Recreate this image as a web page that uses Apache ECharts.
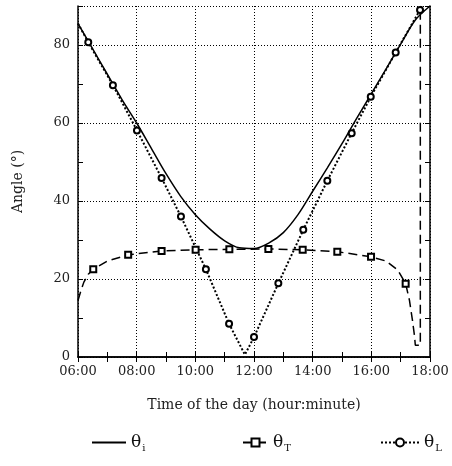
<!DOCTYPE html>
<html>
<head>
<meta charset="utf-8">
<script src="https://cdn.jsdelivr.net/npm/echarts@6/dist/echarts.min.js"></script>
<style>
html,body{margin:0;padding:0;background:#fff;}
#chart{width:452px;height:466px;}
</style>
</head>
<body>
<div id="chart"></div>
<script>
// theta_i : incidence angle (solid line)
var iHours  = [6.0, 6.5, 7.0, 7.5, 8.0, 8.5, 9.0, 9.5, 10.0, 10.5, 11.0, 11.5, 12.0, 12.5, 13.0, 13.5, 14.0, 14.5, 15.0, 15.5, 16.0, 16.5, 17.0, 17.5, 18.0];
var iValues = [85.5, 79, 72.5, 66, 60, 53.5, 47, 41.2, 36.5, 32.8, 29.8, 28.0, 27.8, 29.2, 31.9, 36.5, 42.5, 48.5, 54.7, 61.2, 67.5, 73.8, 80.2, 86.4, 90];

// theta_T (dashed, squares)
var tHours  = [6.0, 6.1, 6.2, 6.35, 6.52, 7.0, 7.71, 8.85, 10.01, 11.16, 12.49, 13.66, 14.84, 15.99, 16.5, 16.9, 17.17, 17.3, 17.4, 17.47, 17.5, 17.67, 17.67];
var tValues = [14.5, 17, 19.2, 21.2, 22.5, 24.6, 26.2, 27.2, 27.5, 27.6, 27.7, 27.5, 27.0, 25.7, 24.6, 22.3, 18.8, 14.5, 9.5, 5.5, 3, 3, 90];
var tMarked = [0, 0, 0, 0, 1, 0, 1, 1, 1, 1, 1, 1, 1, 1, 0, 0, 1, 0, 0, 0, 0, 0, 0];

// theta_L (dotted, circles)
var lHours  = [6.0, 6.35, 7.19, 8.01, 8.85, 9.51, 10.36, 11.15, 11.69, 12.0, 12.83, 13.68, 14.5, 15.33, 15.98, 16.83, 17.66, 17.72];
var lValues = [85.5, 80.7, 69.7, 58.1, 45.9, 36.0, 22.5, 8.5, 0.6, 5.1, 18.9, 32.6, 45.2, 57.4, 66.7, 78.1, 89.0, 90];
var lMarked = [0, 1, 1, 1, 1, 1, 1, 1, 0, 1, 1, 1, 1, 1, 1, 1, 1, 0];

var xTicks = ['06:00', '08:00', '10:00', '12:00', '14:00', '16:00', '18:00'];
var yTicks = ['0', '20', '40', '60', '80'];

function pairs(h, v, m) {
    return h.map(function (x, k) {
        var p = { value: [x, v[k]] };
        if (m && !m[k]) p.symbol = 'none';
        return p;
    });
}

var font = 'DejaVu Serif';
var chart = echarts.init(document.getElementById('chart'));

var subRich = {
    a: { fontFamily: font, fontSize: 17, color: '#111' },
    b: { fontFamily: font, fontSize: 10, color: '#111', padding: [12, 0, 0, 1] }
};
var subNames = { 'θi': '{a|θ}{b|i}', 'θT': '{a|θ}{b|T}', 'θL': '{a|θ}{b|L}' };
function legendAt(left, name, w, noSymbol) {
    var l = {
        data: [name], left: left, top: 429, itemWidth: w, itemHeight: 10,
        formatter: function (n) { return subNames[n]; },
        textStyle: { rich: subRich },
        selectedMode: false
    };
    if (noSymbol) l.itemStyle = { opacity: 0 };
    return l;
}

var axisCommon = {
    type: 'value',
    axisLine: { lineStyle: { color: '#000', width: 1.5 } },
    axisTick: { inside: true, length: 5, lineStyle: { color: '#000' } },
    minorTick: { show: true, splitNumber: 2, length: 5, lineStyle: { color: '#000' } }
};

chart.setOption({
    animation: false,
    grid: { left: 78, right: 22, top: 6, bottom: 109 },
    legend: [legendAt(86, 'θi', 34, true), legendAt(237, 'θT', 25), legendAt(375, 'θL', 38)],
    xAxis: [
        Object.assign({}, axisCommon, {
            min: 6, max: 18, interval: 2,
            name: 'Time of the day (hour:minute)',
            nameLocation: 'middle', nameGap: 41,
            nameTextStyle: { fontFamily: font, fontSize: 14, color: '#222' },
            axisLabel: {
                fontFamily: font, fontSize: 13, color: '#222', margin: 8,
                formatter: function (v) { return xTicks[(v - 6) / 2]; }
            },
            splitLine: { show: true, lineStyle: { color: '#000', type: [1, 2], width: 1 } }
        }),
        Object.assign({}, axisCommon, {
            min: 6, max: 18, interval: 2, position: 'top',
            axisLabel: { show: false }, splitLine: { show: false }
        })
    ],
    yAxis: [
        Object.assign({}, axisCommon, {
            min: 0, max: 90, interval: 20,
            name: 'Angle (°)',
            nameLocation: 'middle', nameGap: 53,
            nameTextStyle: { fontFamily: font, fontSize: 14, color: '#222' },
            axisLabel: {
                fontFamily: font, fontSize: 13, color: '#222', margin: 8,
                formatter: function (v) { return v % 20 === 0 ? yTicks[v / 20] : ''; }
            },
            splitLine: { show: true, lineStyle: { color: '#000', type: [1, 2], width: 1 } }
        }),
        Object.assign({}, axisCommon, {
            min: 0, max: 90, interval: 20, position: 'right',
            axisLabel: { show: false }, splitLine: { show: false }
        })
    ],
    series: [
        {
            name: 'θi', type: 'line', smooth: 0.3, symbol: 'none',
            data: pairs(iHours, iValues),
            lineStyle: { color: '#000', width: 1.5 },
            itemStyle: { color: '#000' }
        },
        {
            name: 'θT', type: 'line', symbol: 'emptyRect', symbolSize: 6,
            data: pairs(tHours, tValues, tMarked),
            lineStyle: { color: '#000', width: 1.5, type: [9, 5] },
            itemStyle: { color: '#000', borderColor: '#000', borderWidth: 1 }
        },
        {
            name: 'θL', type: 'line', symbol: 'emptyCircle', symbolSize: 6,
            data: pairs(lHours, lValues, lMarked),
            lineStyle: { color: '#000', width: 2, type: [2, 2] },
            itemStyle: { color: '#000', borderColor: '#000', borderWidth: 1 }
        }
    ]
});
</script>
</body>
</html>
